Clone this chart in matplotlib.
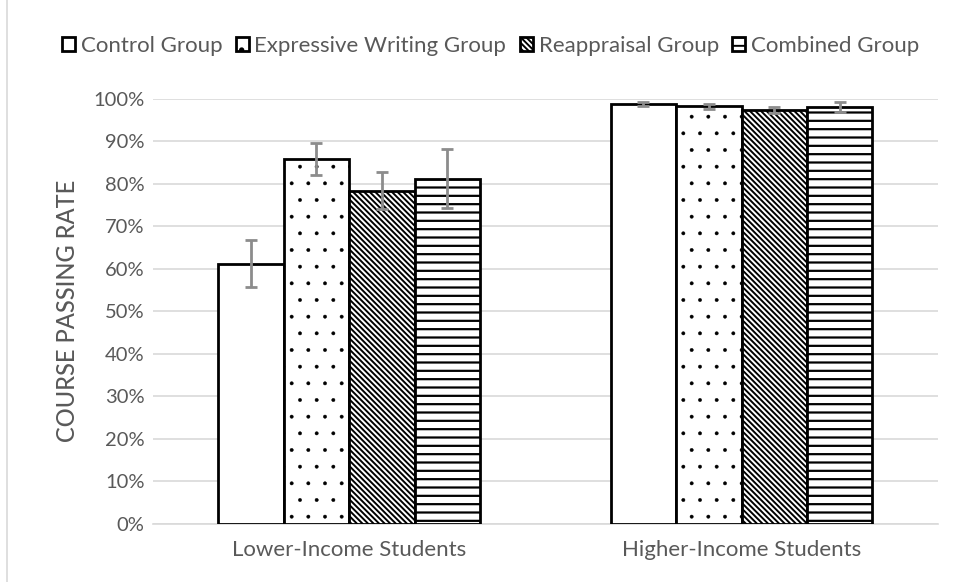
import matplotlib.pyplot as plt
import numpy as np
from matplotlib.ticker import PercentFormatter
from matplotlib.patches import Rectangle

plt.rcParams['font.family'] = ['Lato', 'DejaVu Sans']
plt.rcParams['hatch.linewidth'] = 1.4

categories = ['Lower-Income Students', 'Higher-Income Students']
groups = ['Control Group', 'Expressive Writing Group', 'Reappraisal Group', 'Combined Group']
rates = [
    [61.2, 98.8],
    [85.9, 98.3],
    [78.4, 97.4],
    [81.2, 98.1],
]
errors = [
    [5.5, 0.4],
    [3.8, 0.6],
    [4.4, 0.8],
    [6.9, 1.1],
]
hatches = ['', '.', '\\' * 6, '--']
hatch_lw = [1.4, 0.3, 1.4, 1.6]

gray = '#595959'

fig = plt.figure(figsize=(9.56, 5.82), dpi=100)
ax = fig.add_axes([0.160, 0.1, 0.821, 0.73])

x = np.arange(len(categories))
w = 0.1667
for i, g in enumerate(groups):
    pos = x + (i - 1.5) * w
    bars = ax.bar(pos, rates[i], width=w, color='white', edgecolor='black',
                  linewidth=2, hatch=hatches[i], label=g, zorder=3)
    for b in bars:
        if hasattr(b, 'set_hatch_linewidth'):
            b.set_hatch_linewidth(hatch_lw[i])
    ax.errorbar(pos, rates[i], yerr=errors[i], fmt='none', ecolor='#8c8c8c',
                elinewidth=2, capsize=4.5, capthick=2, zorder=4)

ax.set_ylim(0, 100)
ax.set_xlim(-0.5, 1.5)
ax.set_yticks(np.arange(0, 101, 10))
ax.yaxis.set_major_formatter(PercentFormatter(decimals=0))
ax.grid(axis='y', color='#d9d9d9', linewidth=1.2, zorder=0)
for s in ['top', 'right', 'left']:
    ax.spines[s].set_visible(False)
ax.spines['bottom'].set_color('#d9d9d9')
ax.spines['bottom'].set_linewidth(1.2)
ax.tick_params(axis='y', length=0, labelsize=14.5, colors=gray, pad=6)
ax.tick_params(axis='x', length=0, labelsize=16, colors=gray, pad=12)
ax.set_xticks(x)
ax.set_xticklabels(categories)
ax.set_ylabel('COURSE PASSING RATE', fontsize=17, color=gray, labelpad=10,
              fontweight='medium')

leg = ax.legend(loc='lower center', bbox_to_anchor=(0.43, 1.055), ncol=4, frameon=False,
                fontsize=16, handlelength=0.6, handleheight=0.6, handletextpad=0.25,
                columnspacing=0.6, labelcolor=gray)

fig.patches.append(Rectangle((0.007, -0.01), 1.2, 1.2, transform=fig.transFigure,
                             fill=False, edgecolor='#d9d9d9', linewidth=1.2))

fig.savefig('out.png', dpi=100)
